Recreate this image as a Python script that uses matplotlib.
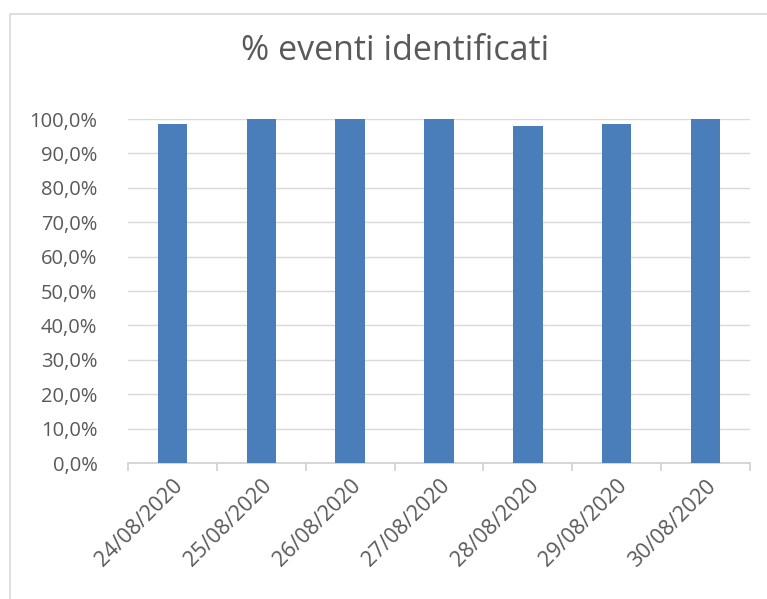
import matplotlib
matplotlib.use("Agg")
import matplotlib.pyplot as plt
from matplotlib.patches import Rectangle
from matplotlib.ticker import FuncFormatter, MultipleLocator

dates = ["24/08/2020", "25/08/2020", "26/08/2020", "27/08/2020",
         "28/08/2020", "29/08/2020", "30/08/2020"]
values = [0.985, 1.0, 1.0, 1.0, 0.980, 0.985, 1.0]

W, H = 767, 599
fig = plt.figure(figsize=(W / 100, H / 100), dpi=100)
plt.rcParams['font.family'] = ['Open Sans', 'DejaVu Sans']

# chart border
fig.patches.append(Rectangle((10 / W, -0.01), 1.0, 1 - 14 / H + 0.01,
                             transform=fig.transFigure, fill=False,
                             edgecolor='#d9d9d9', linewidth=1.2))

ax = fig.add_axes([128 / W, 1 - 463 / H, (750 - 128) / W, (463 - 119) / H])
x = list(range(len(dates)))
ax.bar(x, values, width=0.33, color='#4a7ebb', zorder=3)
ax.set_xlim(-0.5, len(dates) - 0.5)
ax.set_ylim(0, 1.0)
ax.yaxis.set_major_locator(MultipleLocator(0.1))
ax.yaxis.set_major_formatter(FuncFormatter(lambda v, p: f"{v*100:.1f}%".replace('.', ',')))
ax.grid(axis='y', color='#d9d9d9', linewidth=1, zorder=0)
for s in ['top', 'right', 'left']:
    ax.spines[s].set_visible(False)
ax.spines['bottom'].set_color('#d0d0d0')
ax.spines['bottom'].set_linewidth(1.2)
ax.tick_params(axis='y', length=0, labelsize=14.5, labelcolor='#595959', pad=22)
ax.set_xticks(x)
ax.set_xticklabels(dates, rotation=45, ha='right', rotation_mode='anchor',
                   fontsize=15.5, color='#595959')
ax.tick_params(axis='x', length=0, pad=9)
ax.set_xticks([i - 0.5 for i in range(len(dates) + 1)], minor=True)
ax.tick_params(axis='x', which='minor', length=6, color='#d0d0d0', width=1.2)

fig.text(395 / W, 1 - 51 / H, "% eventi identificati", ha='center', va='center',
         fontsize=24.5, color='#595959')

fig.savefig("out.png", dpi=100)
